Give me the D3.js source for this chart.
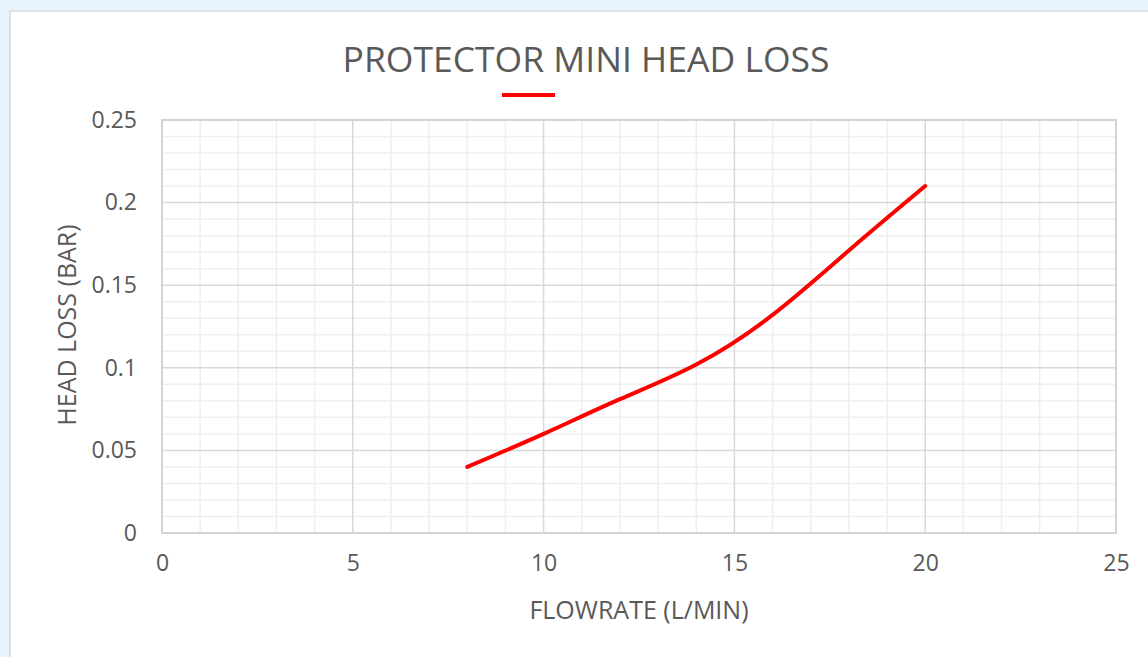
<!DOCTYPE html>
<html><head><meta charset="utf-8">
<script src="https://cdn.jsdelivr.net/npm/d3@7"></script>
<style>
html,body{margin:0;padding:0;background:#e8f4fd;}
svg{display:block;}
</style></head>
<body>
<script>
const flowrate = [8, 10, 12, 14, 16, 18, 20];
const headLoss = [0.04, 0.06, 0.081, 0.102, 0.132, 0.171, 0.21];
const xTicks = [0, 5, 10, 15, 20, 25];
const yTicks = [0, 0.05, 0.1, 0.15, 0.2, 0.25];
const title = "PROTECTOR MINI HEAD LOSS";
const xTitle = "FLOWRATE (L/MIN)";
const yTitle = "HEAD LOSS (BAR)";

const W = 1148, H = 657;
const svg = d3.select("body").append("svg").attr("width", W).attr("height", H);
svg.append("rect").attr("x",0).attr("y",0).attr("width",W).attr("height",H).attr("fill","#e8f4fd");
svg.append("rect").attr("x",10).attr("y",11).attr("width",W).attr("height",H)
  .attr("fill","#fff").attr("stroke","#d6d9dc").attr("stroke-width",1.5);

const x = d3.scaleLinear().domain([0,25]).range([162,1116]);
const y = d3.scaleLinear().domain([0,0.25]).range([533,120]);
const font = "'Open Sans', sans-serif";
const txt = "#595959";

const g = svg.append("g");
// minor grid
g.append("g").selectAll("line").data(d3.range(0,26,1).filter(v=>v%5!==0)).join("line")
  .attr("x1",d=>x(d)).attr("x2",d=>x(d)).attr("y1",y(0)).attr("y2",y(0.25))
  .attr("stroke","#efefef").attr("stroke-width",1.5);
g.append("g").selectAll("line").data(d3.range(1,25).map(v=>v/100).filter((v,i)=>(i+1)%5!==0)).join("line")
  .attr("y1",d=>y(d)).attr("y2",d=>y(d)).attr("x1",x(0)).attr("x2",x(25))
  .attr("stroke","#efefef").attr("stroke-width",1.5);
// major grid
g.append("g").selectAll("line").data(xTicks).join("line")
  .attr("x1",d=>x(d)).attr("x2",d=>x(d)).attr("y1",y(0)).attr("y2",y(0.25))
  .attr("stroke","#d9d9d9").attr("stroke-width",1.5);
g.append("g").selectAll("line").data(yTicks).join("line")
  .attr("y1",d=>y(d)).attr("y2",d=>y(d)).attr("x1",x(0)).attr("x2",x(25))
  .attr("stroke","#d9d9d9").attr("stroke-width",1.5);
g.append("rect").attr("x",x(0)).attr("y",y(0.25)).attr("width",x(25)-x(0)).attr("height",y(0)-y(0.25))
  .attr("fill","none").attr("stroke","#d4d4d4").attr("stroke-width",2);

// axes labels via d3 axes
const xAxis = svg.append("g").attr("transform",`translate(0,${y(0)})`)
  .call(d3.axisBottom(x).tickValues(xTicks).tickSize(0).tickPadding(22).tickFormat(d3.format("")));
xAxis.select(".domain").remove();
xAxis.selectAll("text").attr("font-family",font).attr("font-size",23).attr("fill",txt);
const yAxis = svg.append("g").attr("transform",`translate(${x(0)},0)`)
  .call(d3.axisLeft(y).tickValues(yTicks).tickSize(0).tickPadding(25).tickFormat(d=>String(+d.toFixed(2))));
yAxis.select(".domain").remove();
yAxis.selectAll("text").attr("font-family",font).attr("font-size",23).attr("fill",txt);

// line
const pts = flowrate.map((f,i)=>[f, headLoss[i]]);
svg.append("path").datum(pts)
  .attr("d", d3.line().x(d=>x(d[0])).y(d=>y(d[1])).curve(d3.curveNatural))
  .attr("fill","none").attr("stroke","#ff0000").attr("stroke-width",4).attr("stroke-linecap","round");

// title
svg.append("text").attr("x",586).attr("y",72).attr("text-anchor","middle")
  .attr("font-family",font).attr("font-size",35.5).attr("fill",txt).text(title);
// legend
svg.append("line").attr("x1",502).attr("x2",555).attr("y1",95).attr("y2",95)
  .attr("stroke","#ff0000").attr("stroke-width",4);
// axis titles
svg.append("text").attr("x",639).attr("y",619).attr("text-anchor","middle")
  .attr("font-family",font).attr("font-size",25).attr("fill",txt).text(xTitle);
svg.append("text").attr("transform","translate(76,325) rotate(-90)").attr("text-anchor","middle")
  .attr("font-family",font).attr("font-size",25).attr("fill",txt).text(yTitle);
</script>
</body></html>
